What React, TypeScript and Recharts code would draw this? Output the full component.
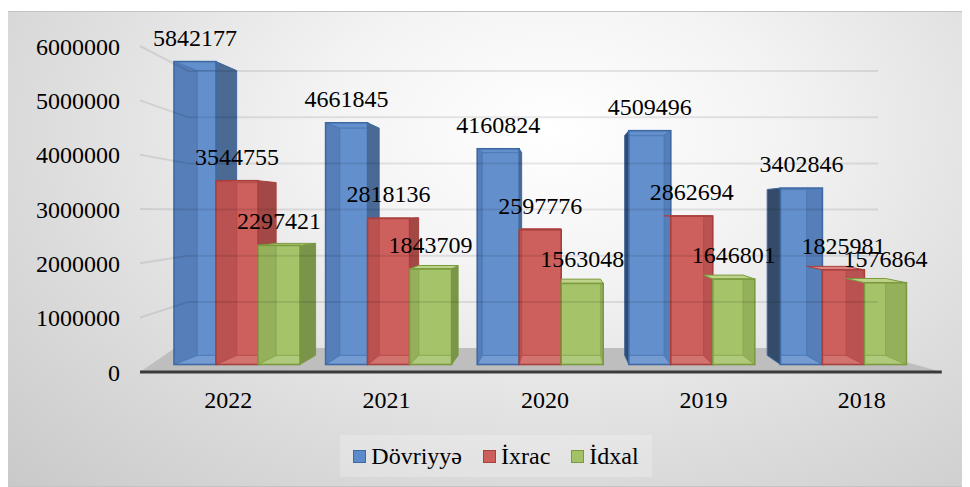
import React from 'react';
import {
  BarChart,
  Bar,
  XAxis,
  YAxis,
  LabelList,
  Legend,
  ReferenceArea,
  ReferenceLine,
} from 'recharts';

// ---------- data ----------
const years = ['2022', '2021', '2020', '2019', '2018'];
const dovriyye = [5842177, 4661845, 4160824, 4509496, 3402846];
const ixrac = [3544755, 2818136, 2597776, 2862694, 1825981];
const idxal = [2297421, 1843709, 1563048, 1646801, 1576864];
const yTicks = [0, 1000000, 2000000, 3000000, 4000000, 5000000, 6000000];
const seriesKeys = ['dovriyye', 'ixrac', 'idxal'];
const seriesNames = ['Dövriyyə', 'İxrac', 'İdxal'];

const data = years.map((year, i) => ({
  year,
  dovriyye: dovriyye[i],
  ixrac: ixrac[i],
  idxal: idxal[i],
}));

// ---------- style ----------
const FONT = "'Liberation Serif', 'Times New Roman', 'DejaVu Serif', serif";
const W = 956;
const H = 476;

const PALETTES = [
  { front: '#6390CD', stroke: '#3F69A3', sideR: '#4A6993', sideL: '#344C6A', top: '#86A9DA', shade: 'rgba(25,45,85,0.16)', inner: '#4A78B6', legend: '#5B8BCB' },
  { front: '#CD605D', stroke: '#A8403E', sideR: '#A24846', sideL: '#883936', top: '#DC8481', shade: 'rgba(90,20,20,0.16)', inner: '#B44C49', legend: '#CC5F5C' },
  { front: '#A6C36A', stroke: '#7B9A3E', sideR: '#7B944B', sideL: '#667E3B', top: '#BDD38A', shade: 'rgba(50,70,10,0.14)', inner: '#8AA851', legend: '#A3C166' },
];

// perspective parameters (vanishing point in chart pixels, depth ratio)
const VX = 553;
const VY = 201;
const DEPTH = 0.06;
const bxp = (px: number) => px + DEPTH * (VX - px);
const byp = (py: number) => py + DEPTH * (VY - py);
const pts = (a: number[][]) => a.map((p) => p.join(',')).join(' ');

// back-wall perspective mapping (tick-axis units), deco axis spans 0..DECO
const DECO = 4;
const WALL_BASE = 438000;
const WALL_SCALE = 0.8504;
const FLOOR_BACK = 440000;
const WALL_FRONT_X = -0.0114 * DECO;
const WALL_CORNER_X = 0.049 * DECO;
const WALL_RIGHT_X = 0.9205 * DECO;
const FLOOR_RIGHT_X = 1.001 * DECO;

function Box3D(props: any) {
  const { x, y, width, height, payload, seriesIndex, index } = props;
  if (!(height > 0) || !(width > 0)) return null;
  const pal = PALETTES[seriesIndex];
  const x0 = x;
  const x1 = x + width;
  const y0 = y;
  const y1 = y + height;
  const X0 = bxp(x0);
  const X1 = bxp(x1);
  const Y0 = byp(y0);
  const Y1 = byp(y1);
  const clipId = `bclip-${seriesIndex}-${index}`;
  const els: any[] = [];

  if (X1 > x1) {
    els.push(
      <polygon key="sr" points={pts([[x1, y0], [X1, Y0], [X1, Y1], [x1, y1]])} fill={pal.sideR} stroke={pal.stroke} strokeWidth={1} />
    );
  }
  if (X0 < x0) {
    let cut = y1;
    if (seriesIndex > 0 && payload) {
      const val = payload[seriesKeys[seriesIndex]];
      const prev = payload[seriesKeys[seriesIndex - 1]];
      cut = y1 - (height * prev) / val;
    }
    if (cut > y0) {
      els.push(
        <polygon key="sl" points={pts([[x0, y0], [X0, Y0], [X0, byp(cut)], [x0, cut]])} fill={pal.sideL} stroke={pal.stroke} strokeWidth={1} />
      );
    }
  }
  if (Y0 < y0) {
    els.push(
      <polygon key="tp" points={pts([[x0, y0], [x1, y0], [X1, Y0], [X0, Y0]])} fill={pal.top} stroke={pal.stroke} strokeWidth={1} />
    );
  }
  els.push(<rect key="fr" x={x0} y={y0} width={width} height={height} fill={pal.front} />);
  els.push(
    <defs key="df">
      <clipPath id={clipId}>
        <rect x={x0} y={y0} width={width} height={height} />
      </clipPath>
    </defs>
  );
  const inner: any[] = [];
  if (X0 > x0) {
    inner.push(<polygon key="il" points={pts([[x0, y0], [X0, Y0], [X0, Y1], [x0, y1]])} fill={pal.shade} />);
  }
  if (X1 < x1) {
    inner.push(<polygon key="ir" points={pts([[x1, y0], [X1, Y0], [X1, Y1], [x1, y1]])} fill={pal.shade} />);
  }
  inner.push(
    <polygon key="ib" points={pts([[x0, y1], [x1, y1], [X1, Y1], [X0, Y1]])} fill="rgba(255,255,255,0.12)" />
  );
  inner.push(
    <g key="edges" stroke={pal.inner} strokeWidth={1.3} fill="none" opacity={0.8}>
      <polygon points={pts([[X0, Y0], [X1, Y0], [X1, Y1], [X0, Y1]])} />
      <line x1={x0} y1={y0} x2={X0} y2={Y0} />
      <line x1={x1} y1={y0} x2={X1} y2={Y0} />
      <line x1={x0} y1={y1} x2={X0} y2={Y1} />
      <line x1={x1} y1={y1} x2={X1} y2={Y1} />
    </g>
  );
  els.push(
    <g key="in" clipPath={`url(#${clipId})`}>
      {inner}
    </g>
  );
  els.push(
    <rect key="fo" x={x0} y={y0} width={width} height={height} fill="none" stroke={pal.stroke} strokeWidth={1.6} />
  );
  return <g>{els}</g>;
}

function Floor(props: any) {
  const { x, y, width, height } = props;
  const p = pts([
    [x - 9, y + height],
    [x + width + 1, y + height],
    [x + width - 86, y],
    [x + 26, y],
  ]);
  return <polygon points={p} fill="#BEBEBE" />;
}

const renderLegend = () => (
  <div
    style={{
      display: 'flex',
      alignItems: 'center',
      justifyContent: 'center',
      height: 42,
      width: 312,
      background: 'rgba(255,255,255,0.22)',
      fontFamily: FONT,
      fontSize: 24,
      color: '#000',
    }}
  >
    {seriesNames.map((n, i) => (
      <div key={n} style={{ display: 'flex', alignItems: 'center', marginLeft: i === 0 ? 0 : 21 }}>
        <span
          style={{
            display: 'inline-block',
            width: 11,
            height: 11,
            background: PALETTES[i].legend,
            border: `1.5px solid ${PALETTES[i].stroke}`,
            marginRight: 5,
          }}
        />
        <span style={{ lineHeight: '24px' }}>{n}</span>
      </div>
    ))}
  </div>
);

const wallLines = yTicks.slice(1);
const GRID_STROKE = 'rgba(0,0,0,0.09)';

export default function App() {
  return (
    <div
      style={{
        position: 'relative',
        width: W,
        height: H,
        marginTop: 3,
        marginLeft: -1,
        background:
          'radial-gradient(ellipse farthest-corner at 57% 25%, #ffffff 0%, #f3f3f3 30%, #dddddd 65%, #c9c9c9 100%)',
        boxShadow: 'inset 0 0 0 1px #c4c4c4',
      }}
    >
      <BarChart
        width={W}
        height={H}
        data={data}
        margin={{ top: 35, right: 22, bottom: 33, left: 0 }}
        barGap={0}
      >
        <XAxis
          xAxisId="labels"
          dataKey="year"
          height={40}
          axisLine={false}
          tickLine={false}
          tickSize={0}
          tickMargin={19}
          tick={{ fontSize: 24, fontFamily: FONT, fill: '#000' }}
          interval={0}
        />
        <XAxis xAxisId="bars" dataKey="year" hide height={0} padding={{ left: 12, right: 22 }} />
        <XAxis xAxisId="deco" type="number" domain={[0, DECO]} hide height={0} allowDataOverflow />
        <YAxis
          yAxisId="ticks"
          width={142}
          domain={[0, 6000000]}
          ticks={yTicks}
          allowDataOverflow
          axisLine={false}
          tickLine={false}
          tickSize={0}
          tickMargin={29}
          interval={0}
          tick={{ fontSize: 24, fontFamily: FONT, fill: '#000' }}
        />
        <YAxis yAxisId="bars" hide width={0} domain={[-144600, 6142700]} allowDataOverflow type="number" />

        {wallLines.map((v) => (
          <ReferenceLine
            key={`wl${v}`}
            xAxisId="deco"
            yAxisId="ticks"
            ifOverflow="visible"
            stroke={GRID_STROKE}
            strokeWidth={2}
            segment={[
              { x: WALL_FRONT_X, y: v },
              { x: WALL_CORNER_X, y: WALL_BASE + WALL_SCALE * v },
            ]}
          />
        ))}
        {wallLines.map((v) => (
          <ReferenceLine
            key={`wb${v}`}
            xAxisId="deco"
            yAxisId="ticks"
            ifOverflow="visible"
            stroke={GRID_STROKE}
            strokeWidth={2}
            segment={[
              { x: WALL_CORNER_X, y: WALL_BASE + WALL_SCALE * v },
              { x: WALL_RIGHT_X, y: WALL_BASE + WALL_SCALE * v },
            ]}
          />
        ))}
        <ReferenceArea
          xAxisId="deco"
          yAxisId="ticks"
          x1={0}
          x2={DECO}
          y1={0}
          y2={FLOOR_BACK}
          ifOverflow="visible"
          shape={(p: any) => <Floor {...p} />}
        />
        <ReferenceLine
          xAxisId="deco"
          yAxisId="ticks"
          ifOverflow="visible"
          stroke="#3b3b3b"
          strokeWidth={3}
          segment={[
            { x: WALL_FRONT_X, y: 0 },
            { x: FLOOR_RIGHT_X, y: 0 },
          ]}
        />

        {seriesKeys.map((k, i) => (
          <Bar
            key={k}
            dataKey={k}
            name={seriesNames[i]}
            xAxisId="bars"
            yAxisId="bars"
            barSize={42}
            fill={PALETTES[i].front}
            isAnimationActive={false}
            shape={(p: any) => <Box3D {...p} seriesIndex={i} />}
          >
            <LabelList
              dataKey={k}
              position="top"
              offset={16}
              fontSize={24}
              fontFamily={FONT}
              fill="#000"
              style={{ fontSize: 24, fontFamily: FONT, fill: '#000' }}
            />
          </Bar>
        ))}

        <Legend
          verticalAlign="bottom"
          content={renderLegend}
          wrapperStyle={{ left: 333, top: 424, width: 312, height: 42, bottom: 'auto' }}
        />
      </BarChart>
    </div>
  );
}
